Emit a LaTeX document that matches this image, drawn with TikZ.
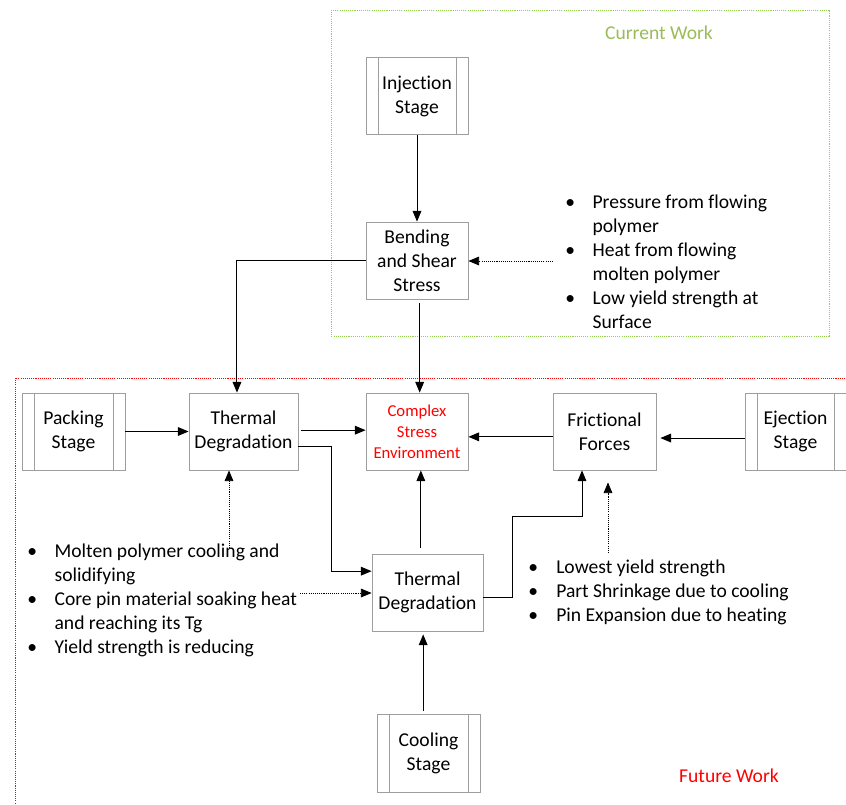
\documentclass[tikz,border=0pt]{standalone}
\usepackage{fontspec}
\setmainfont{Carlito}[Ligatures=NoCommon]
\usetikzlibrary{calc}
\usetikzlibrary{positioning}
\usetikzlibrary{arrows.meta}

\definecolor{curgreen}{RGB}{146,208,80}
\definecolor{curtext}{RGB}{155,187,89}

\begin{document}
\begin{tikzpicture}[x=0.75pt,y=-0.75pt,
		box/.style={draw=black!38,line width=0.6pt,rectangle,inner sep=0pt,align=center,
				minimum width=76.5pt,minimum height=57.75pt,font=\fontsize{14.7}{18}\selectfont},
		stagebox/.style={box,path picture={
						\draw[black!38,line width=0.7pt] ([xshift=9pt]path picture bounding box.north west) -- ([xshift=9pt]path picture bounding box.south west);
						\draw[black!38,line width=0.7pt] ([xshift=-9pt]path picture bounding box.north east) -- ([xshift=-9pt]path picture bounding box.south east);}},
		arr/.style={-{Triangle[length=8pt,width=6.5pt]},line width=0.75pt},
		dotarr/.style={arr,line width=0.6pt,dash pattern=on 0.8pt off 0.8pt},
		notes/.style={anchor=base west,inner sep=0pt,font=\fontsize{14.7}{18}\selectfont}]
		\useasboundingbox (0,0) rectangle (846,804);
		% frames
		\draw[curgreen,line width=0.6pt,dash pattern=on 0.8pt off 0.8pt] (331,10) rectangle (829,336);
		\node[text=curtext,font=\fontsize{14.7}{18}\selectfont] (cur) at (659,33) {Current Work};
		\draw[red,line width=0.6pt,dash pattern=on 0.8pt off 0.8pt] (15,378) rectangle (880,840);
		\node[text=red,font=\fontsize{14.7}{18}\selectfont] (fut) at (729,776) {Future Work};
		% stages and effects
		\node[stagebox] (inj) at (417,96) {Injection\\Stage};
		\node[box] (bend) at (417,260.5) {Bending\\and Shear\\Stress};
		\node[stagebox,minimum width=77.25pt] (pack) at (73.5,431.5) {Packing\\Stage};
		\node[box,minimum width=81.75pt] (td1) at (243.5,431.5) {Thermal\\Degradation};
		\node[box,text=red,font=\fontsize{12.5}{15.75}\selectfont] (cse) at (417,431.5) {Complex\\Stress\\Environment};
		\node[box,minimum width=77.25pt] (fric) at (604.5,431.5) {Frictional\\Forces};
		\node[stagebox,minimum width=75.75pt] (ej) at (795.5,431.5) {Ejection\\Stage};
		\node[box,minimum width=83.25pt] (td2) at (427.5,592.5) {Thermal\\Degradation};
		\node[stagebox,minimum width=77.25pt,minimum height=58.5pt] (cool) at (428.5,753) {Cooling\\Stage};
		% notes
		\node[notes] (note1) at (565,208) {\begin{tabular}[t]{@{}p{20.5pt}@{}l@{}}
				\textbullet & Pressure from flowing\\
				            & polymer\\
				\textbullet & Heat from flowing\\
				            & molten polymer\\
				\textbullet & Low yield strength at\\
				            & Surface
			\end{tabular}};
		\node[notes] (note2) at (27,557) {\begin{tabular}[t]{@{}p{20.5pt}@{}l@{}}
				\textbullet & Molten polymer cooling and\\
				            & solidifying\\
				\textbullet & Core pin material soaking heat\\
				            & and reaching its Tg\\
				\textbullet & Yield strength is reducing
			\end{tabular}};
		\node[notes] (note3) at (528,573) {\begin{tabular}[t]{@{}p{21pt}@{}l@{}}
				\textbullet & Lowest yield strength\\
				\textbullet & Part Shrinkage due to cooling\\
				\textbullet & Pin Expansion due to heating
			\end{tabular}};
		\coordinate (n1) at (553,261);
		\coordinate (n2a) at (229,548);
		\coordinate (n2b) at (300,593);
		\coordinate (n3) at (608,553);
		\coordinate (up1) at ([xshift=-4pt,yshift=2pt]cool.north);
		\coordinate (up2) at ([xshift=-5pt,yshift=4.5pt]td2.north);
		% solid connectors
		\draw[arr] (inj) -- (bend);
		\draw[arr] (bend.west) -| ([xshift=-4.9pt]td1.north);
		\draw[arr] ([xshift=2pt,yshift=-3pt]bend.south) -- ([xshift=2pt]cse.north);
		\draw[arr] (pack.east) -- (td1.west);
		\draw[arr] ([xshift=2pt,yshift=1pt]td1.east) -- ([yshift=1pt]cse.west);
		\draw[arr] ([yshift=-11pt]td1.east) -- ++(33,0) |- ([yshift=16pt]td2.west);
		\draw[arr] (up2) -- (up2 |- cse.south);
		\draw[arr] ([yshift=-4pt]td2.east) -- ++(29,0) |- ($(fric.south)+(-22.5,46)$) -- ($(fric.south)+(-22.5,0)$);
		\draw[arr] ([yshift=-4pt]fric.west) -- ([yshift=-4pt]cse.east);
		\draw[arr] ([yshift=-4.9pt]ej.west) -- ([xshift=3pt,yshift=-4.9pt]fric.east);
		\draw[arr] (up1) -- ($(up1 |- td2.south)+(0,3)$);
		% dotted connectors
		\draw[dotarr] (n1) -- (n1 -| bend.east);
		\draw[dotarr] (n2a) -- (n2a |- td1.south);
		\draw[dotarr] (n2b) -- (n2b -| td2.west);
		\draw[dotarr] (n3) -- ($(n3 |- fric.south)+(0,12)$);
	\end{tikzpicture}
\end{document}
